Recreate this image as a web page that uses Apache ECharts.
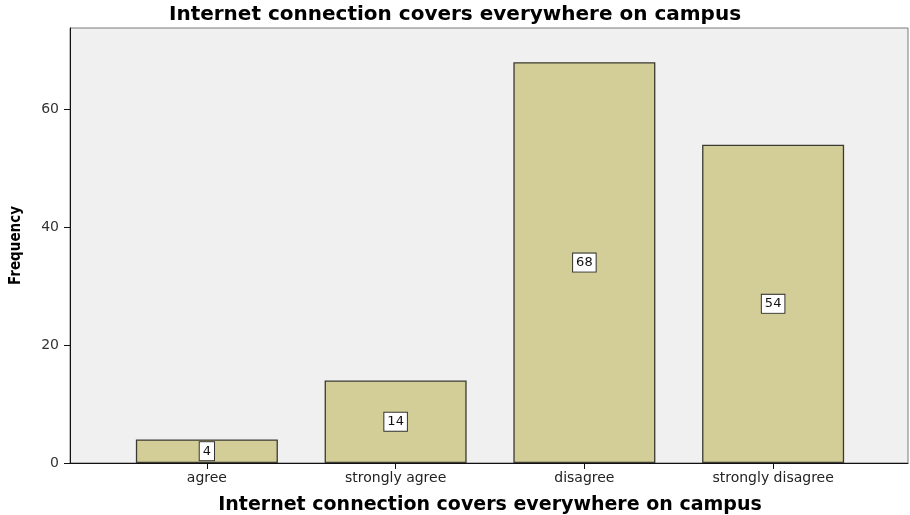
<!DOCTYPE html>
<html>
<head>
<meta charset="utf-8">
<script src="https://cdn.jsdelivr.net/npm/echarts@6/dist/echarts.min.js"></script>
<style>
  html, body { margin: 0; padding: 0; background: #ffffff; }
  #chart { width: 910px; height: 515px; }
</style>
</head>
<body>
<div id="chart"></div>
<script>
// Survey responses: "Internet connection covers everywhere on campus"
const categories = ['agree', 'strongly agree', 'disagree', 'strongly disagree'];
const frequencies = [4, 14, 68, 54];
const yTicks = [0, 20, 40, 60];

const titleText = 'Internet connection covers everywhere on campus';
const yName = 'Frequency';

const barFill = '#d3ce97';
const barEdge = '#3a3a32';
const panelFill = '#f0f0f0';

const yMax = 73.8;
const plotTop = 28;
const plotHeight = 435;

const chart = echarts.init(document.getElementById('chart'), null, { renderer: 'canvas' });

chart.setOption({
  animation: false,
  backgroundColor: '#ffffff',
  title: {
    text: titleText,
    left: 'center',
    top: 0,
    textStyle: {
      fontFamily: 'DejaVu Sans',
      fontWeight: 'bold',
      fontSize: 20,
      color: '#000000'
    }
  },
  grid: [
    // outer frame with the frequency scale
    {
      left: 70, right: 2, top: plotTop, height: plotHeight,
      show: true, backgroundColor: panelFill,
      borderColor: '#7a7a7a', borderWidth: 1,
      outerBoundsMode: 'none', containLabel: false
    },
    // inner band holding the bars
    {
      left: 112.5, width: 755, top: plotTop, height: plotHeight,
      outerBoundsMode: 'none', containLabel: false
    }
  ],
  xAxis: [
    {
      gridIndex: 0, type: 'value', min: 0, max: 1,
      axisLine: { show: true, onZero: false, lineStyle: { color: '#111111', width: 1 } },
      axisTick: { show: false }, axisLabel: { show: false }, splitLine: { show: false }
    },
    {
      gridIndex: 1, type: 'category', data: categories,
      axisLine: { show: false },
      axisTick: { show: true, alignWithLabel: true, length: 6, lineStyle: { color: '#111111' } },
      axisLabel: {
        margin: 8, color: '#222222', fontSize: 14,
        fontFamily: 'DejaVu Sans'
      },
      name: titleText,
      nameLocation: 'middle',
      nameGap: 33,
      nameTextStyle: {
        fontFamily: 'DejaVu Sans', fontWeight: 'bold', fontSize: 19, color: '#000000'
      }
    }
  ],
  yAxis: [
    {
      gridIndex: 0, type: 'value', min: 0, max: yMax, interval: 20,
      axisLine: { show: true, lineStyle: { color: '#111111', width: 1 } },
      axisTick: { show: true, length: 6, lineStyle: { color: '#111111' }, customValues: yTicks },
      axisLabel: {
        margin: 11, color: '#333333', fontSize: 14, fontFamily: 'DejaVu Sans',
        customValues: yTicks
      },
      splitLine: { show: false },
      name: yName,
      nameLocation: 'middle',
      nameGap: 46,
      nameRotate: 90,
      nameTextStyle: {
        fontFamily: 'DejaVu Sans Condensed, Liberation Sans',
        fontWeight: 'bold', fontSize: 15, color: '#000000'
      }
    },
    {
      gridIndex: 1, type: 'value', min: 0, max: yMax,
      show: false
    }
  ],
  series: [
    {
      type: 'bar',
      xAxisIndex: 1,
      yAxisIndex: 1,
      data: frequencies,
      barWidth: 142,
      itemStyle: { color: barFill, borderColor: barEdge, borderWidth: 1.3 },
      label: {
        show: true,
        position: 'inside',
        fontFamily: 'DejaVu Sans',
        fontSize: 13,
        lineHeight: 14,
        color: '#111111',
        backgroundColor: '#ffffff',
        borderColor: '#333333',
        borderWidth: 1,
        padding: [2, 3]
      }
    }
  ]
});
</script>
</body>
</html>
